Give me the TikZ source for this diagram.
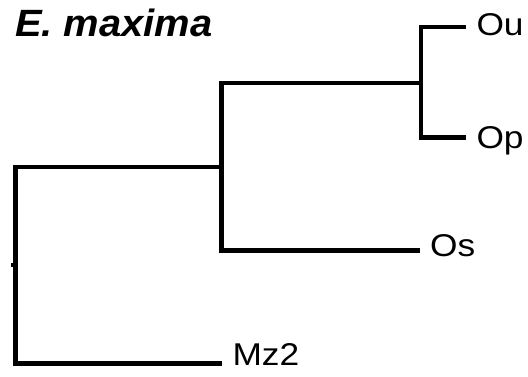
\documentclass[tikz,border=0pt]{standalone}
\usepackage{fontspec}
\setmainfont{Liberation Sans}
\newcommand{\widen}[2][1.12]{\scalebox{#1}[1]{#2}}
\begin{document}
\begin{tikzpicture}[x=1pt, y=-1pt,
    branch/.style={line width=4.6pt, black, line join=miter},
    leaf/.style={anchor=base west, inner sep=0pt, font=\fontsize{31.5}{31.5}\selectfont}]
    \useasboundingbox (0,0) rectangle (528,377);

    % Title
    \node[anchor=base west, inner sep=0pt, font=\fontsize{38}{38}\selectfont\bfseries\itshape] (title) at (15,36.7) {\widen[1.05]{E. maxima}};

    % Inner nodes
    \coordinate (root) at (15.5,265);
    \coordinate (rootstub) at (11,265);
    \coordinate (n1) at (221.5,167);
    \coordinate (n2) at (421,83);

    % Tips
    \coordinate (ouTip) at (466,27);
    \coordinate (opTip) at (466,137.5);
    \coordinate (osTip) at (420,250.5);
    \coordinate (mzTip) at (221.5,363.5);

    % Leaves
    \node[leaf] (ou) at (476.3,35.5) {\widen{Ou}};
    \node[leaf] (op) at (476.3,149) {\widen{Op}};
    \node[leaf] (os) at (430,256.5) {\widen{Os}};
    \node[leaf] (mz) at (232.4,365.7) {\widen{Mz2}};

    % Branches
    \draw[branch] (ouTip) -| (n2) |- (opTip);
    \draw[branch] (n2) -| (n1) |- (osTip);
    \draw[branch] (n1) -| (root) |- (mzTip);
    \draw[branch] (root) -- (rootstub);
\end{tikzpicture}
\end{document}
